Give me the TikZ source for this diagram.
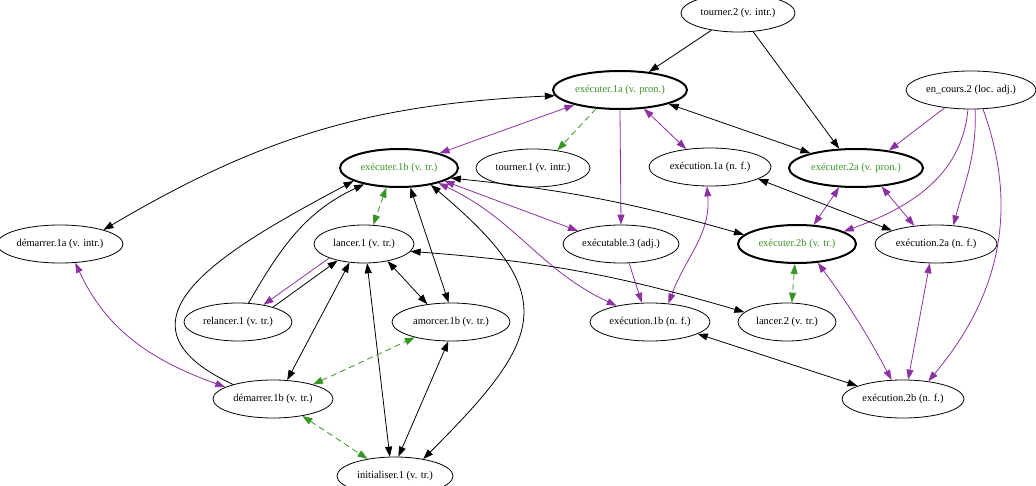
\documentclass[tikz,border=0pt]{standalone}
\usepackage{fontspec}
\setmainfont{Liberation Serif}
\usetikzlibrary{arrows.meta}
\usetikzlibrary{shapes.geometric}

\definecolor{violetlien}{RGB}{140,50,160}
\definecolor{vertlien}{RGB}{55,150,35}

\begin{document}
\begin{tikzpicture}[x=1pt,y=1pt,>={Triangle[length=10pt,width=7pt]}]
		\tikzset{
			sens/.style={draw,ellipse,line width=0.8pt,inner sep=0pt,minimum height=38pt,font=\fontsize{10.5}{12}\selectfont},
			vedette/.style={sens,line width=2pt,text=vertlien},
			lien/.style={line width=0.8pt},
			derive/.style={line width=0.8pt,violetlien},
			synonyme/.style={line width=0.8pt,vertlien,dash pattern=on 6pt off 4pt},
		}
		\useasboundingbox (0,0) rectangle (1036,-486);
		% les sens, rang par rang
		\node[sens,minimum width=114pt] (tourner2) at (738,-13) {tourner.2 (v. intr.)};
		\node[vedette,minimum width=134pt] (exec1a) at (620,-90) {exécuter.1a (v. pron.)};
		\node[sens,minimum width=130pt] (encours2) at (971,-90) {en\_cours.2 (loc. adj.)};
		\node[vedette,minimum width=118pt] (exec1b) at (399,-168) {exécuter.1b (v. tr.)};
		\node[sens,minimum width=114pt] (tourner1) at (533,-168) {tourner.1 (v. intr.)};
		\node[sens,minimum width=122pt] (execution1a) at (710,-167) {exécution.1a (n. f.)};
		\node[vedette,minimum width=134pt] (exec2a) at (856,-168) {exécuter.2a (v. pron.)};
		\node[sens,minimum width=126pt] (demarrer1a) at (60,-244) {démarrer.1a (v. intr.)};
		\node[sens,minimum width=100pt] (lancer1) at (364,-244) {lancer.1 (v. tr.)};
		\node[sens,minimum width=116pt] (executable3) at (621,-244) {exécutable.3 (adj.)};
		\node[vedette,minimum width=118pt] (exec2b) at (797,-244) {exécuter.2b (v. tr.)};
		\node[sens,minimum width=122pt] (execution2a) at (936,-244) {exécution.2a (n. f.)};
		\node[sens,minimum width=108pt] (relancer1) at (238,-322) {relancer.1 (v. tr.)};
		\node[sens,minimum width=118pt] (amorcer1b) at (451,-322) {amorcer.1b (v. tr.)};
		\node[sens,minimum width=120pt] (execution1b) at (650,-322) {exécution.1b (n. f.)};
		\node[sens,minimum width=98pt] (lancer2) at (787,-322) {lancer.2 (v. tr.)};
		\node[sens,minimum width=120pt] (demarrer1b) at (273,-399) {démarrer.1b (v. tr.)};
		\node[sens,minimum width=122pt] (execution2b) at (903,-399) {exécution.2b (n. f.)};
		\node[sens,minimum width=116pt] (initialiser1) at (395,-476) {initialiser.1 (v. tr.)};

		% tourner.2 et exécuter.1a
		\draw[lien,->] (tourner2.213) -- (exec1a.32);
		\draw[lien,->] (tourner2.309) -- (exec2a.131);
		\draw[lien,<->] (exec1a.185) to[bend right=14] (demarrer1a.18);
		\draw[lien,<->] (exec1a.344) -- (exec2a.162);
		\draw[derive,<->] (exec1a.198) -- (exec1b.20);
		\draw[synonyme,->] (exec1a.218) -- (tourner1.36);
		\draw[derive,->] (exec1a.south) -- (executable3.north);
		\draw[derive,<->] (exec1a.322) -- (execution1a.143);
		% en_cours.2
		\draw[derive,->] (encours2.214) -- (exec2a.28);
		\draw[derive,->] (encours2.261) to[out=-95,in=20] (exec2b.15);
		\draw[derive,->] (encours2.282) to[out=-88,in=75] (execution2a.47);
		\draw[derive,->] (encours2.302) to[out=-70,in=50] (execution2b.35);
		% exécuter.2a, exécution.1a
		\draw[derive,<->] (exec2a.229) -- (exec2b.49);
		\draw[derive,<->] (exec2a.324) -- (execution2a.140);
		\draw[lien,<->] (execution1a.346) -- (execution2a.163);
		\draw[derive,<->] (execution1a.261) to[out=-85,in=70] (execution1b.45);
		% exécuter.1b
		\draw[lien,<->] (exec1b.349) to[bend left=5] (exec2b.170);
		\draw[derive,<->] (exec1b.344) -- (executable3.163);
		\draw[derive,<->] (exec1b.339) to[out=-25,in=155] (execution1b.154);
		\draw[synonyme,<->] (exec1b.237) -- (lancer1.64);
		\draw[lien,<->] (exec1b.300) -- (amorcer1b.97);
		\draw[lien,<->] (exec1b.332) to[out=-40,in=45,looseness=1.6] (initialiser1.31);
		\draw[lien,->] (demarrer1b.160) to[out=155,in=208,looseness=1.6] (exec1b.196);
		\draw[lien,->] (relancer1.61) to[out=60,in=205] (exec1b.205);
		% lancer.1
		\draw[lien,<->] (lancer1.351) to[bend left=6] (lancer2.167);
		\draw[lien,->] (relancer1.23) -- (lancer1.212);
		\draw[derive,->] (lancer1.202) -- (relancer1.34);
		\draw[lien,<->] (lancer1.232) -- (demarrer1b.53);
		\draw[lien,<->] (lancer1.279) -- (initialiser1.105);
		\draw[lien,<->] (lancer1.324) -- (amorcer1b.143);
		% démarrer, amorcer, initialiser
		\draw[derive,<->] (demarrer1a.309) to[out=-65,in=160] (demarrer1b.166);
		\draw[synonyme,<->] (demarrer1b.20) -- (amorcer1b.203);
		\draw[synonyme,<->] (demarrer1b.330) -- (initialiser1.148);
		\draw[lien,<->] (amorcer1b.262) -- (initialiser1.80);
		% exécuter.2b et les exécution
		\draw[synonyme,<->] (exec2b.264) -- (lancer2.76);
		\draw[derive,<->] (exec2b.318) to[bend left=4] (execution2b.121);
		\draw[derive,<->] (execution2a.252) -- (execution2b.75);
		\draw[derive,->] (executable3.293) -- (execution1b.113);
		\draw[lien,<->] (execution1b.346) -- (execution2b.164);
	\end{tikzpicture}
\end{document}
